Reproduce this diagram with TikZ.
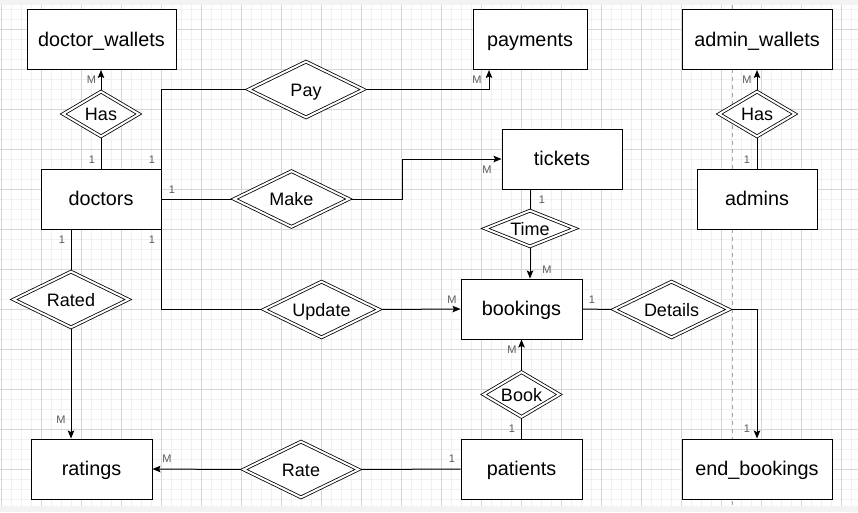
\documentclass[tikz,border=0pt]{standalone}
\usepackage{fontspec}
\setmainfont{Liberation Sans}
\usetikzlibrary{shapes.geometric,arrows.meta}
\pgfdeclarelayer{gridlayer}
\pgfdeclarelayer{connlayer}
\pgfsetlayers{gridlayer,connlayer,main}
\definecolor{minorgrid}{HTML}{F0F0F0}
\definecolor{majorgrid}{HTML}{D6D6D6}
\definecolor{cardgray}{HTML}{5A5A5A}
\definecolor{bandgray}{HTML}{F3F3F3}
\tikzset{
  entity/.style={draw, line width=1pt, fill=white, minimum width=120pt, minimum height=60pt, inner sep=0pt, text height=15pt, text depth=2pt, font=\fontsize{19.8}{22}\selectfont},
  rel/.style={diamond, draw, line width=0.8pt, double, double distance=2pt, fill=white, inner sep=0pt, shape aspect=2, text height=14.5pt, text depth=1pt, font=\fontsize{18}{20}\selectfont},
  conn/.style={line width=1pt, draw=black},
  arr/.style={conn, -{Stealth[length=8pt,width=6.5pt,inset=1.5pt]}},
  card/.style={font=\fontsize{11}{12}\selectfont, text=cardgray, inner sep=0pt},
}
\begin{document}
\begin{tikzpicture}[x=1pt,y=-1pt]
\useasboundingbox (0,0) rectangle (858,512);
\begin{pgfonlayer}{gridlayer}
  \fill[white] (0,0) rectangle (858,512);
  \foreach \x in {1,11,...,851} \draw[minorgrid, line width=0.8pt] (\x,0) -- (\x,512);
  \foreach \y in {9,19,...,509} \draw[minorgrid, line width=0.8pt] (0,\y) -- (858,\y);
  \foreach \x in {1,41,...,841} \draw[majorgrid, line width=0.8pt] (\x,0) -- (\x,512);
  \foreach \y in {29,69,...,509} \draw[majorgrid, line width=0.8pt] (0,\y) -- (858,\y);
  \fill[bandgray] (0,0) rectangle (858,5);
  \fill[bandgray] (0,506) rectangle (858,512);
  \draw[gray!70, line width=0.6pt, dash pattern=on 4pt off 4pt] (732,5) -- (732,506);
\end{pgfonlayer}

% entities
\node[entity, minimum width=149pt] (dwallets) at (101.5,39.5) {doctor\_wallets};
\node[entity, minimum width=114pt] (payments) at (530,39.5) {payments};
\node[entity, minimum width=150pt] (awallets) at (757,39.5) {admin\_wallets};
\node[entity] (doctors) at (101,199) {doctors};
\node[entity] (tickets) at (562,159) {tickets};
\node[entity] (admins) at (757,199) {admins};
\node[entity, minimum width=121pt] (bookings) at (521.5,309) {bookings};
\node[entity, minimum width=121pt] (ratings) at (91.5,469) {ratings};
\node[entity, minimum width=121pt] (patients) at (521.5,469) {patients};
\node[entity, minimum width=150pt] (endb) at (757,469) {end\_bookings};

% relationships
\node[rel, minimum width=76pt, minimum height=45pt] (dhas) at (101,114) {Has};
\node[rel, minimum width=76pt, minimum height=45pt] (ahas) at (757,114) {Has};
\node[rel, minimum width=115pt, minimum height=56pt] (pay) at (306,89.5) {Pay};
\node[rel, minimum width=115pt, minimum height=56pt] (make) at (291.5,199) {Make};
\node[rel, minimum width=90pt, minimum height=36pt, shape aspect=2.4] (time) at (530,228.5) {Time};
\node[rel, minimum width=115pt, minimum height=56pt] (update) at (321.5,309.5) {Update};
\node[rel, minimum width=115pt, minimum height=56pt] (details) at (671.5,309.5) {Details};
\node[rel, minimum width=115pt, minimum height=56pt] (rated) at (71,299.5) {Rated};
\node[rel, minimum width=115pt, minimum height=56pt] (rate) at (301,469.5) {Rate};
\node[rel, minimum width=76pt, minimum height=45pt] (book) at (521.5,394.5) {Book};

% bend coordinates
\coordinate (payx) at (489,0);
\coordinate (makex) at (402,0);
\coordinate (ratedx) at (71,0);
\coordinate (timex) at (530,0);

% connectors
\begin{pgfonlayer}{connlayer}
  \draw[conn] (doctors.north -| dhas.south) -- (dhas.south);
  \draw[arr] (dhas.north) -- (dwallets.south -| dhas.north);
  \draw[conn] (doctors.north east) |- (pay.west);
  \draw[arr] (pay.east) -| (payx |- payments.south);
  \draw[conn] (doctors.east) -- (make.west);
  \draw[arr] (make.east) -- (makex |- make.east) |- (tickets.west);
  \draw[conn] (doctors.south east) |- (update.west);
  \draw[arr] (update.east) -- (bookings.west);
  \draw[conn] (ratedx |- doctors.south) -- (rated.north);
  \draw[arr] (rated.south) -- (ratedx |- ratings.north);
  \draw[conn] (patients.west) -- (rate.east);
  \draw[arr] (rate.west) -- (ratings.east);
  \draw[conn] (patients.north) -- (book.south);
  \draw[arr] (book.north) -- (bookings.south);
  \draw[conn] (timex |- tickets.south) -- (time.north);
  \draw[arr] (time.south) -- (timex |- bookings.north);
  \draw[conn] (bookings.east) -- (details.west);
  \draw[arr] (details.east) -| (endb.north);
  \draw[conn] (admins.north) -- (ahas.south);
  \draw[arr] (ahas.north) -- (awallets.south);
\end{pgfonlayer}

% cardinality labels
\node[card] (c1) at (91.5,80) {M};
\node[card] (c2) at (92,160) {1};
\node[card] (c3) at (152,160) {1};
\node[card] (c4) at (172,190) {1};
\node[card] (c5) at (62,240) {1};
\node[card] (c6) at (152,240) {1};
\node[card] (c7) at (477,80) {M};
\node[card] (c8) at (487,170) {M};
\node[card] (c9) at (542,200) {1};
\node[card] (c10) at (547,270) {M};
\node[card] (c11) at (452,300) {M};
\node[card] (c12) at (592,300) {1};
\node[card] (c13) at (512,350) {M};
\node[card] (c14) at (512,429) {1};
\node[card] (c15) at (452,459) {1};
\node[card] (c16) at (747,429) {1};
\node[card] (c17) at (167,459) {M};
\node[card] (c18) at (61,420) {M};
\node[card] (c19) at (747,80) {M};
\node[card] (c20) at (747,160) {1};
\end{tikzpicture}
\end{document}
